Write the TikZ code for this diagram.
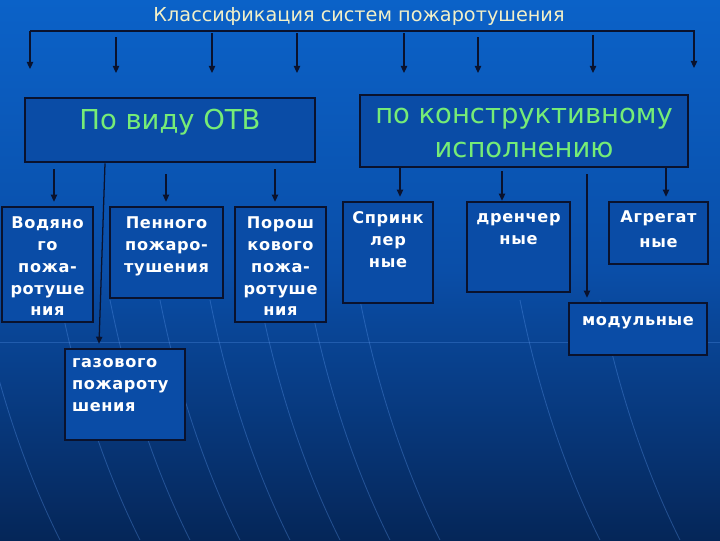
\documentclass[tikz,border=0pt]{standalone}
\usepackage{fontspec}
\setmainfont{DejaVu Sans}
\newfontfamily\boxfont[LetterSpace=4]{DejaVu Sans}
\usetikzlibrary{arrows.meta,positioning}

\definecolor{bgtop}{RGB}{11,98,200}
\definecolor{bgmid}{RGB}{10,78,168}
\definecolor{bgbot}{RGB}{5,38,88}
\definecolor{boxblue}{RGB}{10,76,166}
\definecolor{edge}{RGB}{10,18,45}
\definecolor{headgreen}{RGB}{118,236,118}
\definecolor{titlecol}{RGB}{242,240,200}
\definecolor{streak}{RGB}{90,150,235}

\tikzset{
  box/.style={draw=edge, line width=1.8pt, fill=boxblue, inner sep=0pt},
  lbl/.style={text=white, align=center, inner sep=0pt,
    font=\boxfont\bfseries\fontsize{11.5}{15.6}\selectfont},
  head/.style={text=headgreen, align=center, inner sep=0pt,
    font=\fontsize{19.5}{23.5}\selectfont},
  wire/.style={draw=edge, line width=0.9pt},
  arr/.style={wire, -{Triangle[length=5pt,width=4.5pt]}}
}

\begin{document}
\begin{tikzpicture}[x=0.025cm, y=-0.025cm]
  % background
  \shade[top color=bgtop, bottom color=bgbot, middle color=bgmid]
    (0,0) rectangle (720,540);
  \useasboundingbox (0,0) rectangle (720,540);
  \foreach \s in {-20,60,110,160,210,260,310,360,520,600} {
    \draw[streak, opacity=0.35, line width=0.6pt]
      (\s,300) .. controls (\s+20,400) and (\s+50,480) .. (\s+80,540);
  }
  \draw[streak, opacity=0.3, line width=0.5pt] (0,342) -- (720,342);

  % title and top rail
  \node[text=titlecol, inner sep=0pt, font=\fontsize{13.7}{16}\selectfont]
    (title) at (359,16) {Классификация систем пожаротушения};
  \coordinate (railL) at (30,31);
  \coordinate (railR) at (695,31);
  \draw[wire] (railL) -- (railR);
  \foreach \x/\ys/\ye [count=\i] in {30/31/69,116/37/73,212/33/73,297/33/73,
      404/33/73,478/37/73,593/35/73,694/31/68} {
    \coordinate (top\i) at (\x,\ys);
    \coordinate (tip\i) at (\x,\ye);
    \draw[arr] (top\i) -- (tip\i);
  }

  % group boxes
  \node[box, minimum width=7.25cm, minimum height=1.6cm] (otv) at (170,130) {};
  \node[head] (otvtxt) at (170,122) {По виду ОТВ};
  \node[box, minimum width=8.2cm, minimum height=1.8cm] (konstr) at (524,131) {};
  \node[head] (konstrtxt) at (524,133) {по конструктивному\\исполнению};

  % by extinguishing agent
  \node[box, minimum width=2.275cm, minimum height=2.875cm] (vod) at (47.5,264.5) {};
  \node[lbl, below=0.26cm of vod.north] (vodtxt) {Водяно\\го\\пожа-\\ротуше\\ния};
  \node[box, minimum width=2.825cm, minimum height=2.275cm] (pen) at (166.5,252.5) {};
  \node[lbl, below=0.26cm of pen.north] (pentxt) {Пенного\\пожаро-\\тушения};
  \node[box, minimum width=2.275cm, minimum height=2.875cm] (por) at (280.5,264.5) {};
  \node[lbl, below=0.26cm of por.north] (portxt) {Порош\\кового\\пожа-\\ротуше\\ния};
  \node[box, minimum width=3cm, minimum height=2.275cm] (gaz) at (125,394.5) {};
  \node[lbl, align=left, below right=0.27cm and 0.2cm of gaz.north west] (gaztxt)
    {газового\\пожароту\\шения};

  % by design
  \node[box, minimum width=2.25cm, minimum height=2.525cm] (spr) at (388,252.5) {};
  \node[lbl, below=0.27cm of spr.north] (sprtxt) {Спринк\\лер\\ные};
  \node[box, minimum width=2.575cm, minimum height=2.25cm] (dren) at (518.5,247) {};
  \node[lbl, below=0.3cm of dren.north] (drentxt) {дренчер\\ные};
  \node[box, minimum width=2.475cm, minimum height=1.55cm] (agr) at (658.5,233) {};
  \node[lbl, below=0.24cm of agr.north, font=\boxfont\bfseries\fontsize{11.5}{18}\selectfont]
    (agrtxt) {Агрегат\\ные};
  \node[box, minimum width=3.45cm, minimum height=1.3cm] (mod) at (638,329) {};
  \node[lbl, below=0.36cm of mod.north] (modtxt) {модульные};

  % connectors
  \coordinate (vodin) at ([shift={(6.5,-4)}]vod.north);
  \coordinate (penin) at ([shift={(-0.5,-4)}]pen.north);
  \coordinate (porin) at ([shift={(-5.5,-4)}]por.north);
  \coordinate (gazin) at ([shift={(-26,-4)}]gaz.north);
  \coordinate (sprin) at ([shift={(12,-4)}]spr.north);
  \coordinate (drenin) at ([shift={(-16.5,0)}]dren.north);
  \coordinate (agrin) at ([shift={(7.5,-4)}]agr.north);
  \coordinate (modin) at ([shift={(-51,-4)}]mod.north);
  \draw[arr] ([yshift=-0.15cm]vodin |- otv.south) -- (vodin);
  \draw[arr] ([yshift=-0.28cm]penin |- otv.south) -- (penin);
  \draw[arr] ([yshift=-0.15cm]porin |- otv.south) -- (porin);
  \draw[arr] ([shift={(-65,0)}]otv.south) -- (gazin);
  \draw[arr] (sprin |- konstr.south) -- (sprin);
  \draw[arr] ([yshift=-0.08cm]drenin |- konstr.south) -- (drenin);
  \draw[arr] (agrin |- konstr.south) -- (agrin);
  \draw[arr] ([yshift=-0.15cm]modin |- konstr.south) -- (modin);
\end{tikzpicture}
\end{document}
